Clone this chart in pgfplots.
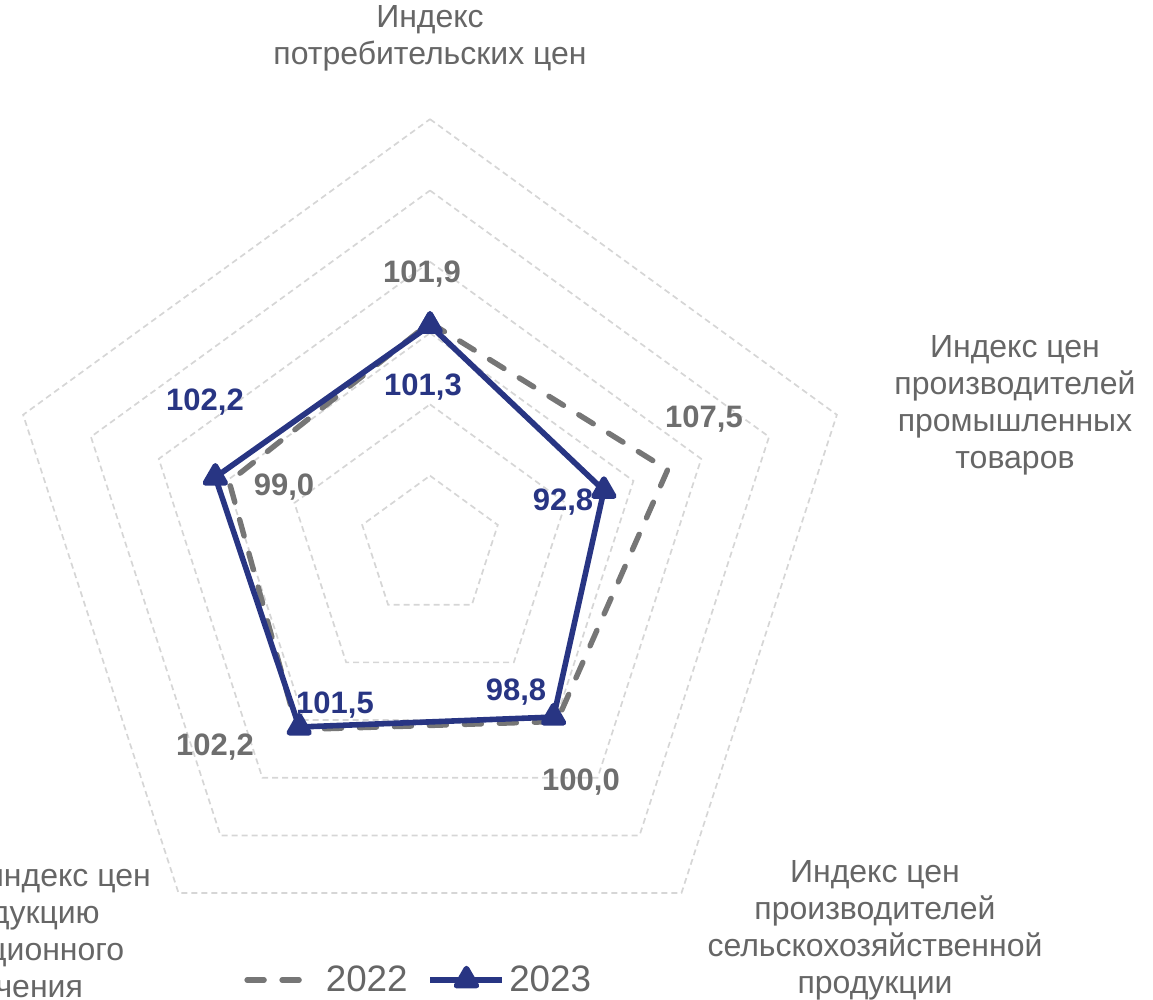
\documentclass[border=0pt]{standalone}
\usepackage{pgfplots}
\pgfplotsset{compat=1.18}
\usepackage{pgfplotstable}
\usepackage{fontspec}
\setmainfont{Liberation Sans}
\definecolor{navy}{HTML}{283583}
\definecolor{dgray}{HTML}{767676}
\definecolor{lblgray}{HTML}{6E6E6E}
\definecolor{catgray}{HTML}{666666}
\definecolor{gridgray}{HTML}{D6D6D6}

\pgfplotsset{
  leg22/.style={legend image code/.code={\draw[##1] (0pt,0pt) -- (31pt,0pt); \path (36pt,0pt);}},
  leg23/.style={legend image code/.code={\draw[##1, mark repeat=2, mark phase=2] plot coordinates {(0pt,0pt) (18pt,0pt) (36pt,0pt)};}},
}

% angle (deg), value
\pgfplotstableread{
a v
90 101.9
18 107.5
-54 100.0
-126 102.2
162 99.0
90 101.9
}\tabA
\pgfplotstableread{
a v
90 101.3
18 92.8
-54 98.8
-126 101.5
162 102.2
90 101.3
}\tabB

\begin{document}
\begin{tikzpicture}
\begin{axis}[
  at={(0,0)}, anchor=south west,
  width=576.5pt, height=500pt, scale only axis,
  xmin=-430, xmax=723, ymin=-453, ymax=547,
  hide axis, clip=false,
  legend columns=2,
  legend style={draw=none, fill=none, at={(axis cs:-186,-433)}, anchor=west,
    font=\fontsize{18.4}{21}\selectfont, text=catgray,
    /tikz/every even column/.append style={column sep=8pt},
    inner sep=0pt},
]
% grid pentagons
\pgfplotsinvokeforeach{71.3,142.6,213.9,285.2,356.5,427.8}{
  \addplot[data cs=polar, gridgray, line width=0.85pt, dash pattern=on 3pt off 2pt, forget plot]
    coordinates {(90,#1) (18,#1) (-54,#1) (-126,#1) (162,#1) (90,#1)};
}
\addplot[data cs=polar, dgray, line width=2.7pt, line cap=round, line join=round,
  dash pattern=on 8.5pt off 9pt, leg22]
  table[x=a, y expr={4.56*(\thisrow{v}-52.7)}] {\tabA};
\addlegendentry{2022}
\addplot[data cs=polar, navy, line width=2.8pt, line join=round,
  mark=triangle*, mark size=5.7pt, mark options={solid, fill=navy}, leg23]
  table[x=a, y expr={4.56*(\thisrow{v}-52.7)}] {\tabB};
\addlegendentry{2023}

% category labels
\tikzset{cat/.style={align=center, text=catgray, font=\fontsize{16}{18.5}\selectfont, inner sep=0pt}}
\node[cat] at (axis cs:0,509) {Индекс\\потребительских цен};
\node[cat] at (axis cs:585,142) {Индекс цен\\производителей\\промышленных\\товаров};
\node[cat] at (axis cs:445,-383) {Индекс цен\\производителей\\сельскохозяйственной\\продукции};
\node[cat] at (axis cs:-433,-383) {Сводный индекс цен\\на продукцию\\инвестиционного\\назначения};

% data labels
\tikzset{dl/.style={anchor=base, inner sep=0pt, font=\fontsize{15.5}{18}\selectfont\bfseries}}
\node[dl, text=lblgray] at (axis cs:-8,264) {101,9};
\node[dl, text=navy] at (axis cs:-7,151) {101,3};
\node[dl, text=lblgray] at (axis cs:274,119) {107,5};
\node[dl, text=navy] at (axis cs:133,36) {92,8};
\node[dl, text=navy] at (axis cs:-225,136) {102,2};
\node[dl, text=lblgray] at (axis cs:-146,51) {99,0};
\node[dl, text=navy] at (axis cs:-95,-167) {101,5};
\node[dl, text=lblgray] at (axis cs:-215,-209) {102,2};
\node[dl, text=navy] at (axis cs:86,-154) {98,8};
\node[dl, text=lblgray] at (axis cs:151,-244) {100,0};
\end{axis}
\pgfresetboundingbox
\path[use as bounding box] (0,0) rectangle (576.5pt,500pt);
\end{tikzpicture}
\end{document}
